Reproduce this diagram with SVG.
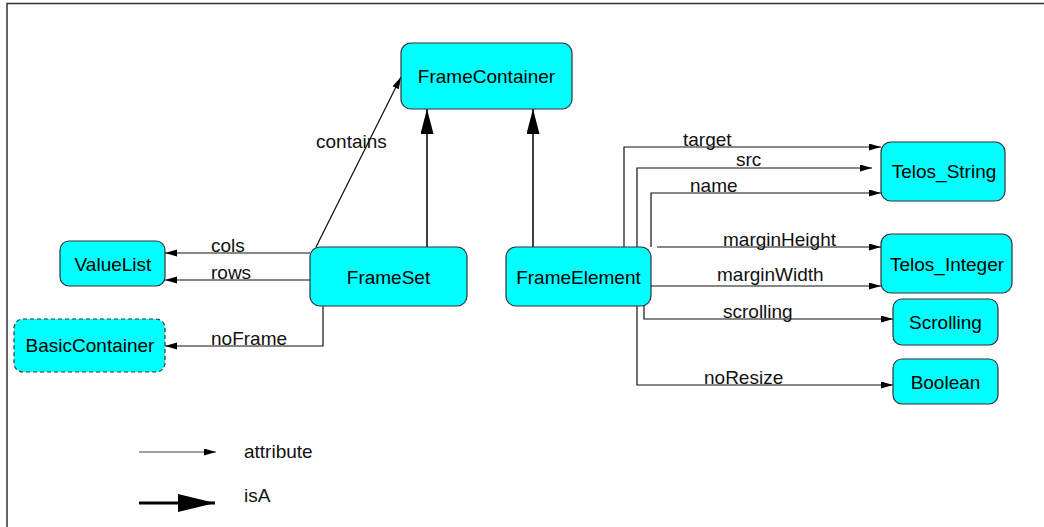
<svg xmlns="http://www.w3.org/2000/svg" width="1044" height="527" viewBox="0 0 1044 527">
<style>
.node rect{fill:#00ffff;stroke:#333;stroke-width:1.2}
.node rect.dash{stroke-dasharray:4 3}
.node text{font-family:"Liberation Sans",Arial,sans-serif;font-size:19px;fill:#000;text-anchor:middle}
.lbl{font-family:"Liberation Sans",Arial,sans-serif;font-size:19px;fill:#111}
.attr{fill:none;stroke:#111;stroke-width:1.2;marker-end:url(#ah)}
.isa{fill:none;stroke:#000;stroke-width:1.5;marker-end:url(#ih)}
</style>
<defs>
<marker id="ah" markerUnits="userSpaceOnUse" markerWidth="13" markerHeight="8" refX="12" refY="3.5" orient="auto"><path d="M0,0 L12,3.5 L0,7 z" fill="#000"/></marker>
<marker id="ih" markerUnits="userSpaceOnUse" markerWidth="26" markerHeight="14" refX="25" refY="6.5" orient="auto"><path d="M0,0 L25,6.5 L0,13 z" fill="#000"/></marker>
<marker id="ihl" markerUnits="userSpaceOnUse" markerWidth="38" markerHeight="19" refX="37" refY="9" orient="auto"><path d="M0,0 L37,9 L0,18 z" fill="#000"/></marker>
</defs>
<rect width="1044" height="527" fill="#fff"/>
<path d="M7,527 V3.5 H1044" fill="none" stroke="#333" stroke-width="1.5"/>

<g id="connectors">
<path class="attr" d="M310,253 H165"/>
<path class="attr" d="M310,280 H165"/>
<path class="attr" d="M323,306 V346 H165"/>
<path class="attr" d="M316,247 L401,77"/>
<path class="isa" d="M427,247 V109"/>
<path class="isa" d="M533,247 V109"/>
<path class="attr" d="M624,247 V147 H881"/>
<path class="attr" d="M637,247 V168 H872"/>
<path class="attr" d="M651,247 V193 H881"/>
<path class="attr" d="M657,247 H881"/>
<path class="attr" d="M651,286 H881"/>
<path class="attr" d="M644,306 V319 H893"/>
<path class="attr" d="M637,306 V385 H893"/>
<text class="lbl" x="211" y="252">cols</text>
<text class="lbl" x="211" y="279">rows</text>
<text class="lbl" x="211" y="345">noFrame</text>
<text class="lbl" x="316" y="148">contains</text>
<text class="lbl" x="683" y="146">target</text>
<text class="lbl" x="736" y="166">src</text>
<text class="lbl" x="690" y="192">name</text>
<text class="lbl" x="723" y="246">marginHeight</text>
<text class="lbl" x="717" y="281">marginWidth</text>
<text class="lbl" x="723" y="318">scrolling</text>
<text class="lbl" x="704" y="384">noResize</text>
</g>

<g id="FrameContainer" class="node"><rect x="401" y="43" width="171" height="66" rx="10"/><text x="486.5" y="83">FrameContainer</text></g>
<g id="FrameSet" class="node"><rect x="310" y="247" width="157" height="59" rx="10"/><text x="388.5" y="283.5">FrameSet</text></g>
<g id="FrameElement" class="node"><rect x="506" y="247" width="145" height="59" rx="10"/><text x="578.5" y="283.5">FrameElement</text></g>
<g id="ValueList" class="node"><rect x="60" y="241" width="105" height="45" rx="9"/><text x="113" y="271">ValueList</text></g>
<g id="BasicContainer" class="node"><rect class="dash" x="14" y="319" width="151" height="53" rx="9"/><text x="90" y="352">BasicContainer</text></g>
<g id="Telos_String" class="node"><rect x="881" y="142" width="124" height="59" rx="10"/><text x="944" y="178">Telos_String</text></g>
<g id="Telos_Integer" class="node"><rect x="881" y="234" width="131" height="59" rx="10"/><text x="947" y="271">Telos_Integer</text></g>
<g id="Scrolling" class="node"><rect x="893" y="299" width="105" height="46" rx="9"/><text x="945.5" y="329">Scrolling</text></g>
<g id="Boolean" class="node"><rect x="893" y="359" width="105" height="45" rx="9"/><text x="945.5" y="388.5">Boolean</text></g>

<g id="legend">
<path d="M139,452 H216" fill="none" stroke="#444" stroke-width="1.2" marker-end="url(#ah)"/>
<text class="lbl" x="244" y="458">attribute</text>
<path d="M139,503 H215" fill="none" stroke="#000" stroke-width="3" marker-end="url(#ihl)"/>
<text class="lbl" x="244" y="502">isA</text>
</g>
</svg>
